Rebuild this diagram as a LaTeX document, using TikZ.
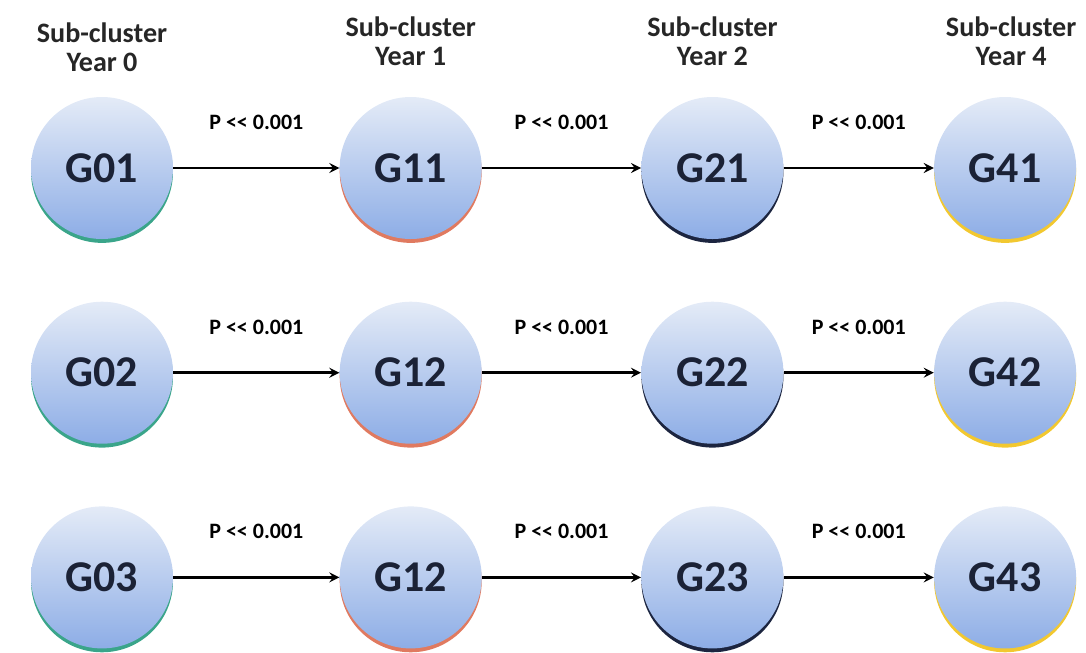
\documentclass[tikz,border=0pt]{standalone}
\usepackage{fontspec}
\setmainfont{Carlito}
\usepackage{tikz}
\usetikzlibrary{arrows, positioning, shapes}
\definecolor{gtext}{HTML}{1B2236}
\definecolor{gtop}{HTML}{E4EBF7}
\definecolor{gbot}{HTML}{8DADE6}
\definecolor{rimA}{HTML}{3AA58A}
\definecolor{rimB}{HTML}{E07A60}
\definecolor{rimC}{HTML}{1C2540}
\definecolor{rimD}{HTML}{F2C830}
\tikzstyle{grp} = [circle, inner sep=0pt, minimum size=2.84cm, top color=gtop, bottom color=gbot, text=gtext, font=\fontsize{25}{25}\selectfont\bfseries]
\tikzstyle{grp0} = [grp, preaction={fill=rimA, transform canvas={yshift=-2.2pt}}]
\tikzstyle{grp1} = [grp, preaction={fill=rimB, transform canvas={yshift=-2.2pt}}]
\tikzstyle{grp2} = [grp, preaction={fill=rimC, transform canvas={yshift=-2.2pt}}]
\tikzstyle{grp4} = [grp, preaction={fill=rimD, transform canvas={yshift=-2.2pt}}]
\tikzstyle{arrow} = [line width=1.5pt,->,>=stealth]
\tikzstyle{plab} = [above=0.74cm, inner sep=0pt, font=\fontsize{12.5}{12.5}\selectfont\bfseries]
\tikzstyle{head} = [align=center, inner sep=0pt, text=black!85, font=\fontsize{16}{16}\selectfont\bfseries]
\newcommand{\pval}{P <{}< 0.001}

\begin{document}
\begin{tikzpicture}[node distance = 1.24cm]
\useasboundingbox (0,0) rectangle (21.72,-13.04);

\node(G01)[grp0] at (2.04,-3.36) {G01};
\node(G02)[grp0, below = of G01]{G02};
\node(G03)[grp0, below = of G02]{G03};

\node(G11)[grp1, right = 3.32cm of G01]{G11};
\node(G12)[grp1, below = of G11]{G12};
\node(G13)[grp1, below = of G12]{G12};

\node(G21)[grp2, right = 3.18cm of G11]{G21};
\node(G22)[grp2, below = of G21]{G22};
\node(G23)[grp2, below = of G22]{G23};

\node(G41)[grp4, right = 3.0cm of G21]{G41};
\node(G42)[grp4, below = of G41]{G42};
\node(G43)[grp4, below = of G42]{G43};

\node(H0)[head, above = 0.5cm of G01]{Sub-cluster\\Year 0};
\node(H1)[head, above = 0.62cm of G11]{Sub-cluster\\Year 1};
\node(H2)[head, above = 0.62cm of G21]{Sub-cluster\\Year 2};
\node(H4)[head, above = 0.62cm of G41, xshift=0.12cm]{Sub-cluster\\Year 4};

\draw [arrow] (G01) -- node[plab]{\pval} (G11);
\draw [arrow] (G11) -- node[plab]{\pval} (G21);
\draw [arrow] (G21) -- node[plab]{\pval} (G41);

\draw [arrow] (G02) -- node[plab]{\pval} (G12);
\draw [arrow] (G12) -- node[plab]{\pval} (G22);
\draw [arrow] (G22) -- node[plab]{\pval} (G42);

\draw [arrow] (G03) -- node[plab]{\pval} (G13);
\draw [arrow] (G13) -- node[plab]{\pval} (G23);
\draw [arrow] (G23) -- node[plab]{\pval} (G43);

\end{tikzpicture}
\end{document}
